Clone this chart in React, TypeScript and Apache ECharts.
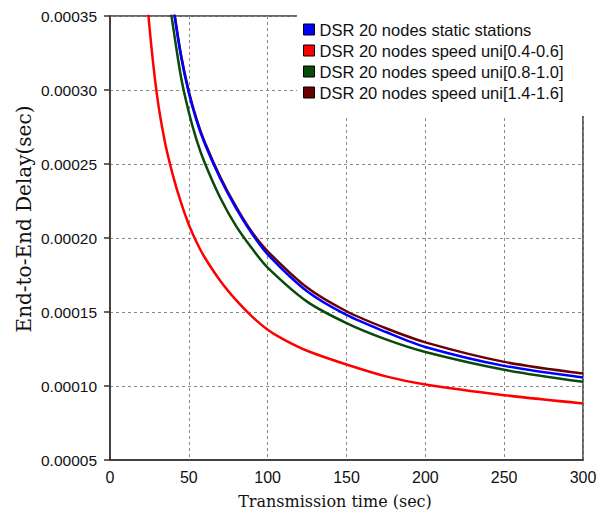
import React, { useEffect, useRef } from "react";
import * as echarts from "echarts";

const legendNames = [
  "DSR 20 nodes static stations",
  "DSR 20 nodes speed uni[0.4-0.6]",
  "DSR 20 nodes speed uni[0.8-1.0]",
  "DSR 20 nodes speed uni[1.4-1.6]",
];

const xTicks = [0, 50, 100, 150, 200, 250, 300];

// static stations (blue)
const staticX = [40, 45, 50, 55, 60, 70, 80, 90, 100, 125, 150, 175, 200, 250, 300];
const staticY = [0.000357, 0.000323, 0.000298, 0.000279, 0.000264, 0.00024, 0.00022, 0.000203, 0.000189, 0.000164, 0.000148, 0.0001365, 0.0001264, 0.0001136, 0.0001058];

// speed uni[0.4-0.6] (red)
const slowX = [20, 25, 30, 35, 40, 45, 50, 55, 60, 70, 80, 90, 100, 110, 125, 150, 175, 200, 250, 300];
const slowY = [0.00041, 0.000343, 0.000295, 0.000264, 0.000242, 0.000224, 0.000209, 0.000197, 0.000187, 0.000171, 0.000158, 0.000147, 0.000138, 0.0001315, 0.0001238, 0.0001145, 0.0001065, 0.000101, 0.0000938, 0.0000882];

// speed uni[0.8-1.0] (green)
const midX = [38, 40, 45, 50, 55, 60, 70, 80, 90, 100, 125, 150, 175, 200, 250, 300];
const midY = [0.000357, 0.000343, 0.000309, 0.000285, 0.000266, 0.000251, 0.000227, 0.000208, 0.000193, 0.00018, 0.000157, 0.0001425, 0.0001315, 0.000123, 0.000111, 0.0001028];

// speed uni[1.4-1.6] (dark red)
const fastX = [40, 45, 50, 55, 60, 70, 80, 90, 100, 125, 150, 175, 200, 250, 300];
const fastY = [0.000358, 0.000324, 0.000299, 0.00028, 0.000265, 0.000241, 0.000221, 0.000204, 0.000191, 0.0001665, 0.0001505, 0.000139, 0.0001295, 0.0001163, 0.0001084];

const colors = ["#0000ff", "#ff0000", "#0a4a0a", "#6a0000"];

const pairs = (xs: number[], ys: number[]) => xs.map((x, i) => [x, ys[i]]);

export default function App() {
  const ref = useRef<HTMLDivElement>(null);
  useEffect(() => {
    if (!ref.current) return;
    const chart = echarts.init(ref.current, null, { renderer: "svg" });
    const mk = (name: string, color: string, data: number[][], z: number) => ({
      name,
      type: "line",
      data,
      smooth: 0.3,
      showSymbol: false,
      symbol: "none",
      clip: true,
      z,
      lineStyle: { color, width: 2.5 },
      itemStyle: { color },
    });
    chart.setOption({
      animation: false,
      grid: {
        left: 102,
        right: 28,
        top: 7,
        bottom: 60,
        show: true,
        borderColor: "#333",
        borderWidth: 1.5,
        backgroundColor: "transparent",
      },
      xAxis: {
        type: "value",
        min: 0,
        max: 300,
        interval: 50,
        axisLine: { show: true, lineStyle: { color: "#333", width: 1.5 } },
        axisTick: { show: false },
        axisLabel: {
          margin: 9,
          color: "#111",
          fontFamily: "Liberation Sans, Arial, sans-serif",
          fontSize: 16,
          formatter: (v: number) => (xTicks.includes(v) ? String(v) : ""),
        },
        splitLine: { show: true, lineStyle: { color: "#888", type: [3, 3], width: 1 } },
      },
      yAxis: {
        type: "value",
        min: 0.00005,
        max: 0.00035,
        interval: 0.00005,
        axisLine: { show: true, lineStyle: { color: "#333", width: 1.5 } },
        axisTick: { show: true, inside: false, length: 6, lineStyle: { color: "#333", width: 1.5 } },
        axisLabel: {
          margin: 13,
          color: "#111",
          fontFamily: "Liberation Sans, Arial, sans-serif",
          fontSize: 15.5,
          formatter: (v: number) => v.toFixed(5),
        },
        splitLine: { show: true, lineStyle: { color: "#888", type: [3, 3], width: 1 } },
      },
      legend: {
        orient: "vertical",
        left: 289,
        top: 7,
        data: legendNames,
        icon: "rect",
        itemWidth: 11,
        itemHeight: 11,
        itemGap: 4,
        padding: [6, 40, 15, 6],
        backgroundColor: "#fff",
        itemStyle: { borderColor: "#000", borderWidth: 1 },
        textStyle: {
          color: "#111",
          fontFamily: "Liberation Sans, Arial, sans-serif",
          fontSize: 16.5,
          lineHeight: 16,
          padding: [0, 0, 0, 0],
        },
      },
      graphic: [
        {
          type: "text",
          x: 327,
          y: 493,
          style: {
            text: "Transmission time (sec)",
            font: "16px 'DejaVu Serif', 'Liberation Serif', serif",
            fill: "#111",
            textAlign: "center",
            textVerticalAlign: "middle",
          },
        },
        {
          type: "text",
          x: 16,
          y: 211,
          rotation: Math.PI / 2,
          style: {
            text: "End-to-End Delay(sec)",
            font: "20px 'DejaVu Serif', 'Liberation Serif', serif",
            fill: "#111",
            textAlign: "center",
            textVerticalAlign: "middle",
          },
        },
      ],
      series: [
        mk(legendNames[3], colors[3], pairs(fastX, fastY), 2),
        mk(legendNames[2], colors[2], pairs(midX, midY), 3),
        mk(legendNames[1], colors[1], pairs(slowX, slowY), 4),
        mk(legendNames[0], colors[0], pairs(staticX, staticY), 5),
      ],
    });
    return () => chart.dispose();
  }, []);
  return <div ref={ref} style={{ width: 603, height: 512 }} />;
}
